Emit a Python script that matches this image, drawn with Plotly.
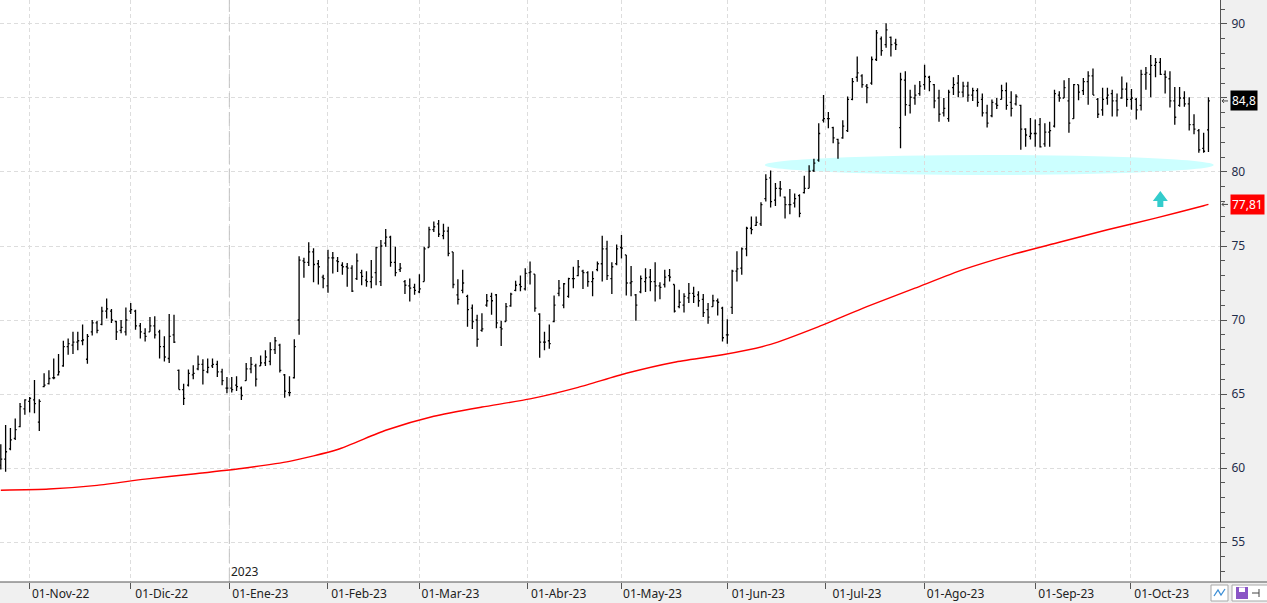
import pandas as pd
import plotly.graph_objects as go

# ---------------- data ----------------
start_date = "2022-10-24"   # first visible bar; trading days follow
market_holidays = ["2022-11-24", "2022-12-26", "2023-01-02", "2023-01-16",
                   "2023-02-20", "2023-04-07", "2023-05-29", "2023-06-19",
                   "2023-07-04", "2023-09-04"]

opens = [
    60.2, 60.6, 61.3, 62.0, 62.8, 64.0, 64.5, 64.6, 63.1, 65.5,
    65.7, 66.1, 66.3, 66.9, 68.2, 68.3, 68.5, 68.6, 67.35,
    69.2, 69.8, 69.7, 70.6, 70.6, 69.9, 69.3, 69.2, 70.6, 70.6,
    69.6, 69.1, 69.2, 69.6, 69.2, 68.2, 67.4, 69.0, 66.6, 65.3,
    65.6, 66.3, 66.7, 67.0, 66.5, 66.9, 67.0, 66.5, 65.4,
    65.4, 65.6, 65.4, 65.9, 66.7, 66.9, 66.9, 67.1, 67.2, 68.0,
    68.3, 66.3, 65.1, 66.1, 70.0,
    74.0, 73.9, 74.6, 73.8, 72.9, 72.3, 74.2, 74.0, 73.7, 73.6,
    73.5, 72.8, 73.2, 72.7, 72.6, 73.2, 72.6, 75.2, 75.6,
    73.9, 73.4, 72.6, 72.3, 72.2, 71.9, 72.6, 74.9, 76.1, 76.5,
    75.7, 76.0, 74.6, 71.7, 72.0, 71.6, 70.8, 70.0, 69.3,
    71.0, 71.6, 71.7,
    69.5, 69.9, 70.95, 72.0, 72.4, 72.1, 73.2, 73.1, 70.4, 68.5,
    68.6, 69.9, 71.8, 71.0, 71.6, 72.8, 73.0, 73.3, 73.2,
    72.6, 73.4, 73.8, 74.8, 72.8, 73.8, 74.9, 74.4, 72.5, 71.7,
    71.9, 72.6, 72.9, 72.6, 72.3, 72.4, 73.0, 72.4, 70.9,
    71.0, 71.5, 71.8, 71.7, 71.4, 70.7, 70.9, 71.3,
    70.8, 69.0, 70.85, 73.3, 73.5, 74.8, 76.2, 76.4, 76.5,
    78.2, 79.6, 78.1, 78.9, 78.3, 77.8, 77.9, 78.4, 78.6, 78.9,
    80.1, 80.8, 83.5, 83.6, 83.0, 82.2, 82.3, 82.8, 84.9, 86.4,
    86.5, 85.8, 86.0, 87.6, 89.0, 88.6, 89.1, 88.7,
    83.0, 86.2, 84.5, 85.0, 85.3, 85.9, 86.4, 85.9, 85.0, 84.0,
    83.6, 85.7, 86.0, 85.4, 85.8, 85.2, 85.5, 84.9, 84.0,
    83.8, 84.6, 84.9, 85.5, 84.7, 84.6, 84.5, 82.9, 82.4,
    82.6, 83.2, 81.9, 82.7, 83.1, 85.2, 85.0, 84.8, 83.6, 85.9,
    85.5, 86.1, 86.5, 84.9, 84.2, 85.0, 85.3, 84.8, 85.0,
    85.6, 84.9, 84.9, 84.5, 86.6, 86.6, 87.2, 87.4, 86.6, 86.3,
    84.8, 84.5, 85.0, 84.6, 83.2, 82.8, 81.6, 82.85,
]

highs = [
    61.6, 62.9, 62.7, 63.35, 64.4, 64.65, 64.8, 65.95, 64.65, 66.4,
    66.6, 67.4, 67.7, 68.6, 68.75, 69.2, 69.2, 69.7, 69.05,
    70.0, 69.95, 70.9, 71.45, 70.75, 69.95, 70.0, 70.85, 71.15, 70.7,
    69.8, 69.45, 70.2, 70.25, 69.35, 68.9, 70.4, 70.35, 66.65, 65.7,
    66.65, 66.95, 67.6, 67.35, 67.4, 67.4, 67.25, 66.7, 66.15,
    66.15, 66.2, 65.5, 67.1, 67.5, 67.05, 67.6, 67.95, 68.5, 68.85,
    68.4, 66.35, 66.2, 68.7, 74.3,
    74.2, 75.25, 74.85, 74.05, 73.05, 74.75, 74.6, 74.25, 73.9, 73.85,
    73.7, 74.5, 73.4, 73.3, 74.05, 74.95, 75.4, 76.15, 75.7,
    74.95, 73.85, 72.7, 72.8, 72.45, 73.1, 74.95, 76.3, 76.65, 76.75,
    76.5, 76.3, 74.6, 72.75, 73.4, 71.7, 71.05, 70.35, 70.45,
    71.75, 71.85, 71.75,
    69.95, 71.15, 71.85, 72.65, 73.0, 73.5, 73.95, 73.1, 70.45, 69.2,
    69.7, 71.65, 72.7, 72.5, 72.85, 73.6, 74.05, 73.4, 73.3,
    73.3, 73.95, 75.7, 75.35, 73.9, 75.1, 75.75, 74.4, 73.65, 71.75,
    73.0, 73.5, 73.45, 73.9, 72.55, 73.4, 73.45, 72.4, 72.05,
    71.8, 72.5, 72.25, 71.95, 71.75, 71.15, 71.7, 71.45,
    70.9, 70.05, 73.4, 74.65, 74.9, 76.3, 77.0, 77.0, 77.95,
    79.85, 80.1, 79.25, 79.4, 78.35, 78.85, 78.55, 78.5, 79.75, 80.45,
    80.9, 83.3, 85.2, 84.05, 83.05, 82.25, 83.5, 85.1, 86.35, 87.8,
    86.6, 85.95, 87.8, 89.6, 89.15, 90.05, 89.15, 89.0,
    86.7, 86.8, 85.55, 85.9, 86.15, 87.25, 86.5, 85.95, 85.55, 85.0,
    85.55, 86.4, 86.55, 86.1, 86.1, 85.7, 85.65, 85.3, 84.55,
    84.9, 85.0, 85.9, 86.05, 85.45, 85.25, 84.55, 82.95, 83.65,
    83.55, 83.65, 83.3, 83.4, 85.55, 85.45, 86.2, 86.35, 85.95, 85.9,
    86.35, 86.8, 87.0, 85.0, 85.7, 85.7, 85.55, 85.3, 86.45,
    86.05, 85.6, 85.0, 86.9, 87.1, 87.9, 87.7, 87.7, 86.85, 86.8,
    85.75, 85.75, 85.45, 85.05, 83.9, 82.9, 82.65, 85.05,
]

lows = [
    59.9, 59.75, 61.2, 61.9, 62.75, 63.6, 63.75, 63.7, 62.5, 65.45,
    65.65, 66.0, 66.25, 66.85, 67.65, 67.7, 67.95, 68.3, 67.05,
    68.95, 69.1, 69.65, 70.1, 69.8, 68.65, 69.1, 68.95, 70.4, 69.35,
    68.75, 68.55, 69.2, 68.75, 67.4, 67.2, 67.1, 68.45, 65.3, 64.25,
    65.5, 66.0, 66.6, 65.65, 66.4, 66.75, 66.15, 65.6, 65.05,
    65.1, 65.2, 64.6, 65.9, 66.4, 65.5, 66.9, 66.9, 66.95, 67.7,
    66.45, 64.75, 64.85, 66.05, 69.0,
    72.85, 73.65, 72.55, 72.4, 72.15, 71.85, 73.15, 73.25, 73.05, 72.25,
    71.9, 72.7, 72.35, 72.25, 72.15, 72.35, 72.3, 74.95, 73.6,
    72.95, 73.25, 71.75, 71.25, 71.7, 71.8, 72.6, 74.9, 75.95, 75.6,
    75.45, 74.3, 72.15, 71.05, 71.8, 69.55, 69.4, 68.2, 69.2,
    70.9, 70.35, 69.45,
    68.25, 69.9, 70.9, 71.95, 71.95, 72.0, 72.4, 70.55, 67.45, 67.95,
    68.05, 69.85, 71.6, 70.8, 71.5, 72.15, 72.95, 72.1, 72.25,
    71.6, 73.3, 72.6, 72.7, 71.75, 73.7, 74.15, 71.65, 71.6, 69.95,
    71.8, 71.9, 71.95, 71.25, 71.4, 72.2, 72.6, 70.5, 70.8,
    70.5, 71.15, 71.15, 70.9, 70.2, 69.75, 70.9, 70.3,
    68.55, 68.4, 70.4, 72.6, 73.05, 74.3, 75.8, 76.35, 76.35,
    78.0, 77.6, 77.7, 78.35, 76.85, 77.15, 77.6, 76.95, 78.55, 78.9,
    80.0, 80.7, 83.35, 82.95, 81.95, 80.9, 82.25, 82.7, 84.85, 86.1,
    85.7, 84.65, 85.9, 87.5, 87.85, 88.4, 87.8, 88.25,
    81.6, 83.8, 83.95, 84.55, 85.15, 85.55, 85.45, 84.3, 83.4, 83.75,
    83.4, 85.2, 85.05, 85.05, 84.75, 84.8, 84.4, 83.75, 83.0,
    83.7, 84.25, 84.9, 84.2, 83.75, 84.5, 81.5, 81.7, 82.2,
    81.7, 81.65, 81.7, 81.7, 83.0, 84.75, 85.0, 82.65, 83.6, 84.85,
    85.2, 84.55, 85.2, 83.65, 83.8, 84.55, 83.75, 83.75, 84.95,
    84.4, 84.2, 83.55, 84.15, 85.55, 85.05, 86.4, 86.55, 85.3, 84.35,
    83.2, 84.4, 84.4, 82.8, 82.55, 81.3, 81.3, 81.35,
]

closes = [
    60.6, 61.1, 61.9, 62.6, 64.15, 64.6, 64.7, 64.35, 64.5, 65.6,
    66.05, 66.1, 66.5, 68.2, 68.4, 68.5, 68.6, 68.65, 68.9,
    69.8, 69.3, 70.6, 70.75, 70.0, 69.2, 69.5, 70.0, 70.7, 69.6,
    69.2, 68.9, 69.6, 69.0, 68.2, 67.5, 68.9, 68.5, 65.3, 64.7,
    66.4, 66.4, 67.0, 66.6, 66.8, 67.0, 66.5, 65.9, 65.4,
    65.3, 65.5, 64.9, 66.7, 67.0, 66.0, 67.1, 67.5, 68.0, 68.6,
    66.6, 65.2, 65.1, 68.2, 74.05,
    73.9, 74.6, 73.75, 73.6, 72.8, 74.2, 74.2, 73.95, 73.6, 73.5,
    71.95, 74.0, 72.95, 72.6, 72.9, 74.9, 75.0, 75.6, 73.9,
    73.2, 73.5, 72.35, 72.15, 72.0, 72.1, 74.8, 76.1, 76.3, 75.8,
    76.0, 74.5, 72.4, 71.4, 72.5, 70.7, 69.9, 68.7, 69.4,
    71.3, 71.3, 69.8,
    69.4, 70.9, 71.75, 72.35, 72.25, 73.15, 73.25, 70.8, 68.5, 68.5,
    68.4, 71.0, 72.15, 72.45, 72.8, 72.8, 73.6, 73.2, 72.6,
    72.8, 73.8, 74.8, 73.0, 73.6, 74.8, 74.85, 72.5, 72.6, 71.0,
    72.8, 72.85, 72.6, 72.3, 72.2, 72.9, 72.9, 70.6, 71.2,
    71.6, 71.8, 71.6, 71.3, 70.5, 70.2, 71.3, 71.2,
    68.8, 69.0, 73.3, 73.45, 74.8, 76.2, 76.1, 76.6, 77.8,
    79.5, 78.0, 78.9, 78.85, 77.8, 77.8, 78.2, 77.2, 78.9, 80.05,
    80.6, 82.6, 83.6, 83.6, 82.3, 81.95, 83.1, 84.9, 86.1, 86.7,
    85.9, 85.7, 87.6, 89.4, 88.2, 89.6, 88.6, 88.6,
    86.25, 84.55, 85.05, 85.2, 85.8, 86.45, 86.1, 84.8, 83.9, 84.3,
    85.4, 85.9, 85.4, 85.8, 85.2, 85.5, 84.7, 84.0, 83.3,
    84.7, 84.5, 85.5, 84.5, 84.3, 85.1, 82.9, 82.5, 82.6,
    82.6, 81.7, 82.7, 82.8, 85.3, 85.0, 85.7, 83.3, 85.9, 85.4,
    86.1, 86.5, 85.2, 83.9, 84.9, 85.2, 84.8, 84.2, 85.6,
    84.9, 85.0, 84.2, 86.6, 86.7, 87.2, 87.4, 86.6, 86.4, 84.8,
    83.7, 85.0, 84.6, 83.2, 82.9, 81.5, 81.4, 84.8,
]

# moving average (red line), read every 10 bars plus the last bar
ma_values = [
    58.5, 58.58, 58.83, 59.25, 59.6, 59.97, 60.45, 61.25, 62.55, 63.5,
    64.12, 64.67, 65.45, 66.4, 67.15, 67.65, 68.35, 69.55, 70.9, 72.15,
    73.4, 74.4, 75.25, 76.1, 76.88, 77.72, 77.81,
]

tick_dates = ["2022-11-01", "2022-12-01", "2022-12-30 12:00", "2023-02-01",
              "2023-03-01", "2023-03-31 12:00", "2023-05-01", "2023-06-01",
              "2023-06-30 12:00", "2023-08-01", "2023-09-01", "2023-09-29 20:00"]
tick_labels = ["01-Nov-22", "01-Dic-22", "01-Ene-23", "01-Feb-23",
               "01-Mar-23", "01-Abr-23", "01-May-23", "01-Jun-23",
               "01-Jul-23", "01-Ago-23", "01-Sep-23", "01-Oct-23"]
y_tick_values = [55, 60, 65, 70, 75, 80, 85, 90]
y_tick_labels = ["55", "60", "65", "70", "75", "80", "", "90"]  # 85 is covered by the price tag

last_price_text = "84,8"
ma_last_text = "77,81"
year_text = "2023"

# ---------------- figure ----------------
n = len(closes)
assert len(opens) == n and len(highs) == n and len(lows) == n, (len(opens), len(highs), len(lows), n)
dates = pd.bdate_range(start_date, periods=n, freq="C", holidays=market_holidays)
ma_pos = list(range(0, n, 10)) + [n - 1]
assert len(ma_pos) == len(ma_values), (len(ma_pos), len(ma_values))
ma_dates = dates[ma_pos]

FONT = "Noto Sans"
fig = go.Figure()

fig.add_trace(go.Scatter(
    x=ma_dates, y=ma_values, mode="lines", line_shape="spline",
    line=dict(color="#ff0000", width=1.4, smoothing=0.6),
    hoverinfo="skip", showlegend=False))

fig.add_trace(go.Ohlc(
    x=dates, open=opens, high=highs, low=lows, close=closes,
    increasing=dict(line=dict(color="black", width=1.3)),
    decreasing=dict(line=dict(color="black", width=1.3)),
    tickwidth=0.3, showlegend=False))

PW, PH = 1220.0, 582.0   # plot area size in px (for paper-space decorations)


def px(x):
    return x / PW


def py(y):
    return (PH - y) / PH


shapes = []
# cyan highlight ellipse
shapes.append(dict(type="circle", xref="x", yref="y",
                   x0="2023-06-12 19:00", x1="2023-10-25 02:00",
                   y0=79.8, y1=81.15, fillcolor="#ccffff",
                   line=dict(width=0), layer="below"))
# year separator
shapes.append(dict(type="line", xref="x", yref="paper",
                   x0="2022-12-30 12:00", x1="2022-12-30 12:00", y0=0, y1=1,
                   line=dict(color="#c4c4c4", width=1, dash="14px,5px")))
# bottom axis line across the whole width
shapes.append(dict(type="line", xref="paper", yref="paper",
                   x0=0, x1=1.05, y0=0, y1=0,
                   line=dict(color="#555555", width=1)))
# teal up-arrow
shapes.append(dict(type="path", xref="x", yref="y",
                   xsizemode="pixel", ysizemode="pixel",
                   xanchor="2023-10-10", yanchor=77.64,
                   path="M-3,0 L3,0 L3,6 L7.5,6 L0,16 L-7.5,6 L-3,6 Z",
                   fillcolor="#33cccc", line=dict(width=0)))
# small left-pointing markers next to the price tags
for val in (84.8, 77.81):
    shapes.append(dict(type="path", xref="paper", yref="y",
                       xsizemode="pixel", ysizemode="pixel",
                       xanchor=1, yanchor=val,
                       path="M8,0 L2,0 M4,2 L2,0 L4,-2",
                       line=dict(color="#444", width=1)))
# small toolbar boxes in the bottom-right corner
shapes.append(dict(type="rect", xref="paper", yref="paper",
                   x0=px(1211), x1=px(1228), y0=py(601), y1=py(585),
                   fillcolor="white", line=dict(color="#a8a8a8", width=1)))
shapes.append(dict(type="path", xref="paper", yref="paper",
                   path="M{},{} L{},{} L{},{} L{},{}".format(
                       px(1214), py(596), px(1218), py(590), px(1221), py(595), px(1225), py(589)),
                   line=dict(color="#3d8fd6", width=1.3)))
shapes.append(dict(type="rect", xref="paper", yref="paper",
                   x0=px(1232), x1=px(1268), y0=py(601), y1=py(585),
                   fillcolor="white", line=dict(color="#a8a8a8", width=1)))
shapes.append(dict(type="rect", xref="paper", yref="paper",
                   x0=px(1236), x1=px(1248), y0=py(599), y1=py(587),
                   fillcolor="#8a55c6", line=dict(width=0)))
shapes.append(dict(type="rect", xref="paper", yref="paper",
                   x0=px(1239), x1=px(1245), y0=py(592), y1=py(587.5),
                   fillcolor="white", line=dict(width=0)))
shapes.append(dict(type="line", xref="paper", yref="paper",
                   x0=px(1252), x1=px(1259), y0=py(593), y1=py(593),
                   line=dict(color="#444", width=1)))
shapes.append(dict(type="line", xref="paper", yref="paper",
                   x0=px(1259), x1=px(1259), y0=py(589), y1=py(597),
                   line=dict(color="#444", width=1)))

annotations = []
annotations.append(dict(x="2022-12-30 12:00", y=0, xref="x", yref="paper",
                        text=year_text, showarrow=False, xanchor="left",
                        yanchor="bottom", xshift=0, yshift=0,
                        font=dict(family=FONT, size=12, color="#222")))
for val, txt, bg in [(84.8, last_price_text, "black"), (77.81, ma_last_text, "#ff0000")]:
    annotations.append(dict(x=1, y=val, xref="paper", yref="y", text=txt,
                            showarrow=False, xanchor="left", xshift=10,
                            bgcolor=bg, borderpad=1,
                            font=dict(family=FONT, size=12, color="white")))

fig.update_layout(
    width=1267, height=603,
    margin=dict(l=0, r=47, t=0, b=21, pad=0),
    paper_bgcolor="#f0f0f0", plot_bgcolor="white",
    showlegend=False, shapes=shapes, annotations=annotations,
    font=dict(family=FONT, size=12, color="#222"),
)
fig.update_xaxes(
    type="date", range=["2022-10-21 20:00", "2023-10-26 09:36"],
    rangebreaks=[dict(bounds=["sat", "mon"]), dict(values=market_holidays)],
    rangeslider=dict(visible=False),
    tickmode="array", tickvals=tick_dates, ticktext=tick_labels,
    ticks="outside", ticklen=6, tickcolor="#555", ticklabelshift=31,
    ticklabelstandoff=-5,
    showgrid=True, gridcolor="#dddddd", griddash="4px,3px", gridwidth=1,
    showline=False, zeroline=False, automargin=False,
    tickfont=dict(family=FONT, size=12, color="#222"),
)
fig.update_yaxes(
    side="right", range=[52.3, 91.62],
    tickmode="array", tickvals=y_tick_values, ticktext=y_tick_labels,
    ticks="outside", ticklen=6, tickcolor="#555",
    minor=dict(tickmode="linear", tick0=0, dtick=1, ticks="outside",
               ticklen=4, tickcolor="#555", showgrid=False),
    showgrid=True, gridcolor="#dddddd", griddash="4px,3px", gridwidth=1,
    showline=True, linecolor="#555", linewidth=1, zeroline=False,
    automargin=False, ticklabelstandoff=2,
    tickfont=dict(family=FONT, size=12, color="#1f2d4a"),
)

fig.write_html("out.html", config={"displayModeBar": False},
               post_script="document.body.style.margin='0px';"
                           "document.body.style.overflow='hidden';")
